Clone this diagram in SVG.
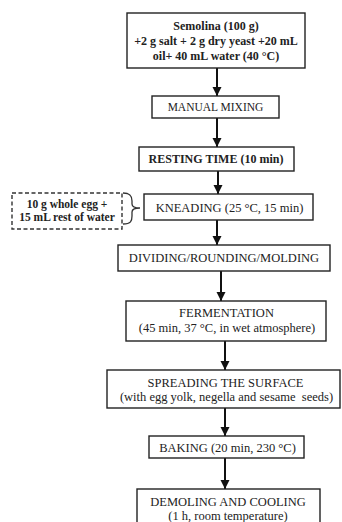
<svg xmlns="http://www.w3.org/2000/svg" width="342" height="522" viewBox="0 0 342 522">
<defs>
<style>
.box{fill:#fff;stroke:#222;stroke-width:1.4}
.dash{fill:#fff;stroke:#333;stroke-width:1.4;stroke-dasharray:4 2.5}
.t{font-family:"Liberation Serif","Times New Roman",serif;font-size:12.5px;fill:#222;text-anchor:middle}
.b{font-weight:bold;font-size:12px}
.arr{stroke:#111;stroke-width:2;fill:none;marker-end:url(#ah)}
</style>
<marker id="ah" markerUnits="userSpaceOnUse" markerWidth="10" markerHeight="10" refX="9" refY="4.5" orient="auto">
<path d="M0,0 L9,4.5 L0,9 z" fill="#111"/>
</marker>
</defs>
<rect width="342" height="522" fill="#fff"/>
<g id="connectors">
<line class="arr" x1="217" y1="68" x2="217" y2="96"/>
<line class="arr" x1="217" y1="118" x2="217" y2="147"/>
<line class="arr" x1="218" y1="171" x2="218" y2="194"/>
<line class="arr" x1="217" y1="220" x2="217" y2="245"/>
<line class="arr" x1="221" y1="271" x2="221" y2="301"/>
<line class="arr" x1="225" y1="341" x2="225" y2="370"/>
<line class="arr" x1="225" y1="408" x2="225" y2="436"/>
<line class="arr" x1="225" y1="458" x2="225" y2="489"/>
<path d="M123,193 C131,193 132,197 132,201 L132,204 C132,207 136,208 140,208 C136,208 132,209 132,212 L132,216 C132,221 131,224 123,224" fill="none" stroke="#333" stroke-width="1.3"/>
</g>
<g id="n1">
<rect class="box" x="127" y="13" width="178" height="55"/>
<text class="t b" x="216" y="30">Semolina (100 g)</text>
<text class="t b" x="216" y="45">+2 g salt + 2 g dry yeast +20 mL</text>
<text class="t b" x="216" y="60">oil+ 40 mL water (40 °C)</text>
</g>
<g id="n2">
<rect class="box" x="152" y="96" width="127" height="22"/>
<text class="t" x="215.5" y="111" style="font-size:11.5px">MANUAL MIXING</text>
</g>
<g id="n3">
<rect class="box" x="139" y="147" width="155" height="24"/>
<text class="t b" x="216" y="163">RESTING TIME (10 min)</text>
</g>
<g id="n4">
<rect class="box" x="144" y="194" width="169" height="26"/>
<text class="t" x="229.5" y="211.5">KNEADING (25 °C, 15 min)</text>
</g>
<g id="n4a">
<rect class="dash" x="12" y="193" width="110" height="36"/>
<text class="t b" x="67" y="207.5" style="font-size:11.5px">10 g whole egg +</text>
<text class="t b" x="67" y="221" style="font-size:11.5px">15 mL rest of water</text>
</g>
<g id="n5">
<rect class="box" x="118" y="245" width="212" height="26"/>
<text class="t" x="224" y="262">DIVIDING/ROUNDING/MOLDING</text>
</g>
<g id="n6">
<rect class="box" x="126" y="301" width="200" height="40"/>
<text class="t" x="226.5" y="317">FERMENTATION</text>
<text class="t" x="227" y="332">(45 min, 37 °C, in wet atmosphere)</text>
</g>
<g id="n7">
<rect class="box" x="107" y="370" width="233" height="38"/>
<text class="t" x="225.5" y="386.5">SPREADING THE SURFACE</text>
<text class="t" x="226.5" y="400.5" xml:space="preserve">(with egg yolk, negella and sesame  seeds)</text>
</g>
<g id="n8">
<rect class="box" x="149" y="436" width="155" height="22"/>
<text class="t" x="227.5" y="452">BAKING (20 min, 230 °C)</text>
</g>
<g id="n9">
<rect class="box" x="137" y="489" width="183" height="40"/>
<text class="t" x="228" y="506">DEMOLING AND COOLING</text>
<text class="t" x="228" y="520">(1 h, room temperature)</text>
</g>
</svg>
